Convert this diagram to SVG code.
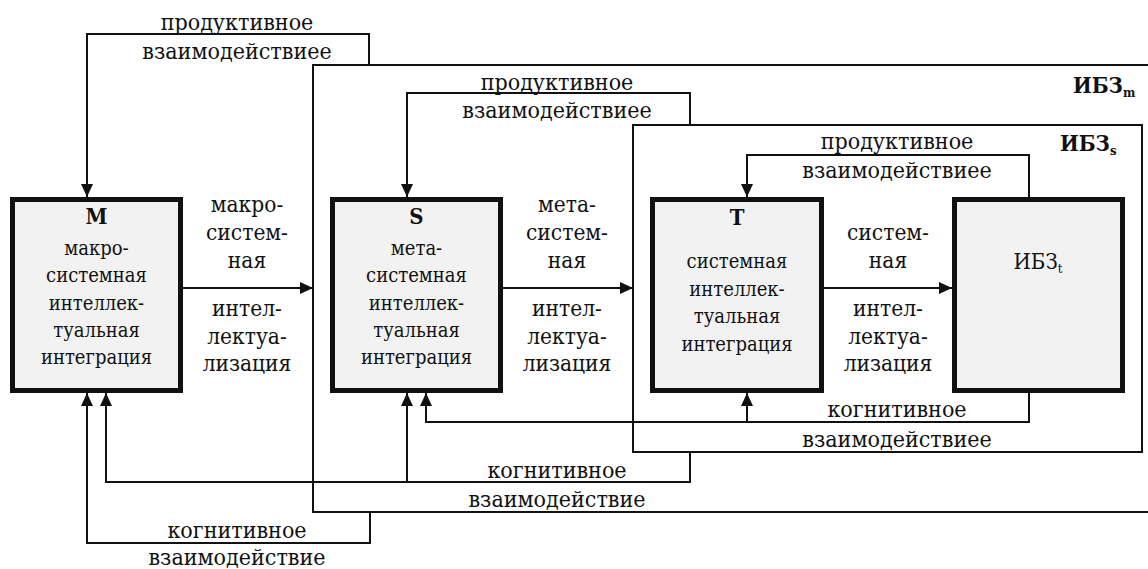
<svg xmlns="http://www.w3.org/2000/svg" width="1148" height="569" viewBox="0 0 1148 569">
<defs>
<marker id="arr" viewBox="0 0 13 12" refX="13" refY="6" markerWidth="13" markerHeight="12" markerUnits="userSpaceOnUse" orient="auto">
<path d="M0,0 L13,6 L0,12 Z" fill="#111"/>
</marker>
<style>
text{font-family:"DejaVu Serif Condensed","DejaVu Serif",serif;font-stretch:condensed;fill:#111;text-anchor:middle}
.lbl{font-size:23px}
.mid{font-size:22.5px}
.box{font-size:20px}
.ttl{font-size:22px;font-weight:bold}
.node{fill:#f2f2f2;stroke:#111;stroke-width:5}
.frame{fill:none;stroke:#111;stroke-width:2}
.con{fill:none;stroke:#111;stroke-width:2}
.head{marker-end:url(#arr)}
</style>
</defs>
<rect width="1148" height="569" fill="#fff"/>

<g id="IBZm">
<rect class="frame" x="313" y="65" width="845" height="447"/>
<text class="ttl" x="1073" y="93" style="text-anchor:start">ИБЗ<tspan dy="4" font-size="13">m</tspan></text>
</g>
<g id="IBZs">
<rect class="frame" x="633" y="125" width="509" height="327"/>
<text class="ttl" x="1060" y="151" style="text-anchor:start">ИБЗ<tspan dy="4" font-size="13">s</tspan></text>
</g>

<g id="M">
<rect class="node" x="12.5" y="199.5" width="168" height="191"/>
<text class="ttl" x="96.5" y="224">M</text>
<text class="box" x="96.5" y="255">макро-</text>
<text class="box" x="96.5" y="282">системная</text>
<text class="box" x="96.5" y="310">интеллек-</text>
<text class="box" x="96.5" y="337">туальная</text>
<text class="box" x="96.5" y="364">интеграция</text>
</g>
<g id="S">
<rect class="node" x="332.5" y="199.5" width="168" height="191"/>
<text class="ttl" x="416.5" y="224">S</text>
<text class="box" x="416.5" y="255">мета-</text>
<text class="box" x="416.5" y="282">системная</text>
<text class="box" x="416.5" y="310">интеллек-</text>
<text class="box" x="416.5" y="337">туальная</text>
<text class="box" x="416.5" y="364">интеграция</text>
</g>
<g id="T">
<rect class="node" x="652.5" y="199.5" width="169" height="191"/>
<text class="ttl" x="737" y="225">T</text>
<text class="box" x="737" y="268">системная</text>
<text class="box" x="737" y="296">интеллек-</text>
<text class="box" x="737" y="323">туальная</text>
<text class="box" x="737" y="351">интеграция</text>
</g>
<g id="IBZt">
<rect class="node" x="954.5" y="199.5" width="168" height="191"/>
<text x="1038" y="269" style="font-size:22px">ИБЗ<tspan dy="4" font-size="13">t</tspan></text>
</g>

<g id="connectors">
<path class="con head" d="M183,288 H313"/>
<path class="con head" d="M503,288 H633"/>
<path class="con head" d="M824,288 H952"/>
<path class="con head" d="M369,65 V34 H87 V197"/>
<path class="con head" d="M690,125 V93 H407 V197"/>
<path class="con head" d="M1029,197 V155 H747 V197"/>
<path class="con head" d="M1029,393 V422 H426 V393"/>
<path class="con head" d="M747,422 V393"/>
<path class="con head" d="M690,452 V482 H106 V393"/>
<path class="con head" d="M407,482 V393"/>
<path class="con head" d="M370,512 V543 H87 V393"/>
</g>

<g id="labels">
<text class="lbl" x="237" y="30">продуктивное</text>
<text class="lbl" x="237" y="59">взаимодействиее</text>
<text class="lbl" x="557" y="90">продуктивное</text>
<text class="lbl" x="557" y="118">взаимодействиее</text>
<text class="lbl" x="897" y="149">продуктивное</text>
<text class="lbl" x="897" y="178">взаимодействиее</text>
<text class="lbl" x="897" y="417">когнитивное</text>
<text class="lbl" x="897" y="447">взаимодействиее</text>
<text class="lbl" x="557" y="478">когнитивное</text>
<text class="lbl" x="557" y="507">взаимодействие</text>
<text class="lbl" x="237" y="538">когнитивное</text>
<text class="lbl" x="237" y="565">взаимодействие</text>
<text class="mid" x="247" y="212">макро-</text>
<text class="mid" x="247" y="240">систем-</text>
<text class="mid" x="247" y="268">ная</text>
<text class="mid" x="247" y="316">интел-</text>
<text class="mid" x="247" y="344">лектуа-</text>
<text class="mid" x="247" y="371">лизация</text>
<text class="mid" x="567" y="212">мета-</text>
<text class="mid" x="567" y="240">систем-</text>
<text class="mid" x="567" y="268">ная</text>
<text class="mid" x="567" y="316">интел-</text>
<text class="mid" x="567" y="344">лектуа-</text>
<text class="mid" x="567" y="371">лизация</text>
<text class="mid" x="888" y="240">систем-</text>
<text class="mid" x="888" y="268">ная</text>
<text class="mid" x="888" y="316">интел-</text>
<text class="mid" x="888" y="344">лектуа-</text>
<text class="mid" x="888" y="371">лизация</text>
</g>
</svg>
